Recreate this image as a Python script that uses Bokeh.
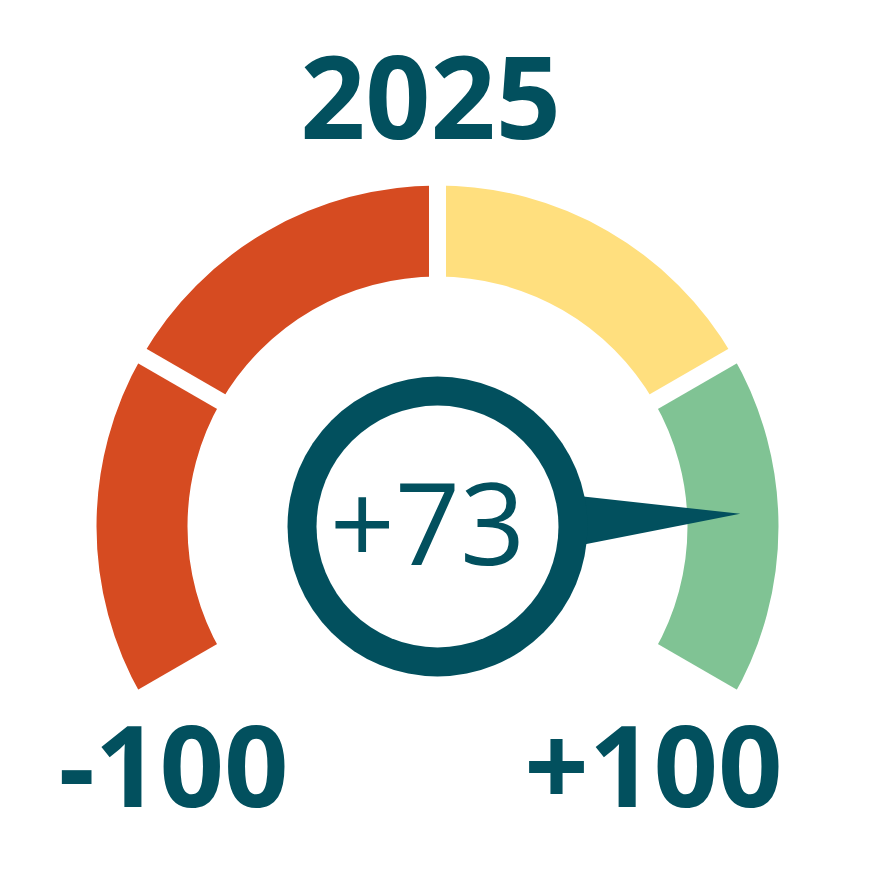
import math
from bokeh.plotting import figure
from bokeh.models import Range1d
from bokeh.embed import file_html
from bokeh.resources import INLINE
from bokeh.core.properties import value

# ---- data ----
title_text = "2025"
gauge_min = -100
gauge_max = 100
band_bounds = [-100, -50, 0, 50, 100]
band_colors = ["#d64b21", "#d64b21", "#ffdf7e", "#80c394"]
reading = 73
reading_label = "+73"
min_label = "-100"
max_label = "+100"

TEAL = "#02505e"
W, H = 869, 858

p = figure(width=W, height=H, output_backend="svg", toolbar_location=None,
           x_range=Range1d(0, W), y_range=Range1d(874 - H, 874),
           min_border=0, outline_line_color=None, background_fill_color="white",
           border_fill_color="white")
p.axis.visible = False
p.grid.visible = False

cx, cy = 437, 348
r_out, r_in = 341, 250
start_deg, sweep_deg = 210.0, 240.0


def ang(v):
    return math.radians(start_deg - (v - gauge_min) / (gauge_max - gauge_min) * sweep_deg)


# bands
p.annular_wedge(x=[cx] * 4, y=[cy] * 4, inner_radius=r_in, outer_radius=r_out,
                start_angle=[ang(b) for b in band_bounds[1:]],
                end_angle=[ang(b) for b in band_bounds[:-1]],
                fill_color=band_colors, line_color=None)

# white gaps at each boundary
gx0, gy0, gx1, gy1 = [], [], [], []
for b in band_bounds:
    a = ang(b)
    gx0.append(cx + (r_in - 20) * math.cos(a)); gy0.append(cy + (r_in - 20) * math.sin(a))
    gx1.append(cx + (r_out + 20) * math.cos(a)); gy1.append(cy + (r_out + 20) * math.sin(a))
p.segment(x0=gx0, y0=gy0, x1=gx1, y1=gy1, line_color="white", line_width=17,
          line_cap="butt")

# needle
a = ang(reading)
tip_r, base_r, base_hw = 303, 120, 28
tx, ty = cx + tip_r * math.cos(a), cy + tip_r * math.sin(a)
bx, by = cx + base_r * math.cos(a), cy + base_r * math.sin(a)
px, py = -math.sin(a), math.cos(a)
p.patch(x=[tx, bx + base_hw * px, bx - base_hw * px],
        y=[ty, by + base_hw * py, by - base_hw * py],
        fill_color=TEAL, line_color=None)

# dial ring
p.circle(x=[cx], y=[cy], radius=150, fill_color=TEAL, line_color=None)
p.circle(x=[cx], y=[cy], radius=121, fill_color="white", line_color=None)

# texts (y = vertical middle of the capitals)
p.text(x=[cx - 7], y=[cy + 429], text=[title_text], text_align="center",
       text_baseline="alphabetic", text_font=value("Open Sans"),
       text_font_style="bold", text_font_size="114px", text_color=TEAL)
p.text(x=[cx - 10], y=[cy + 3], text=[reading_label], text_align="center",
       text_baseline="alphabetic", text_font=value("Open Sans"),
       text_font_size="114px", text_color=TEAL)
p.text(x=[cx - 264, cx + 216], y=[cy - 240, cy - 240], text=[min_label, max_label],
       text_align="center", text_baseline="alphabetic", text_font=value("Open Sans"),
       text_font_style="bold", text_font_size="113px", text_color=TEAL)

open("out.html", "w").write(file_html(p, INLINE))
